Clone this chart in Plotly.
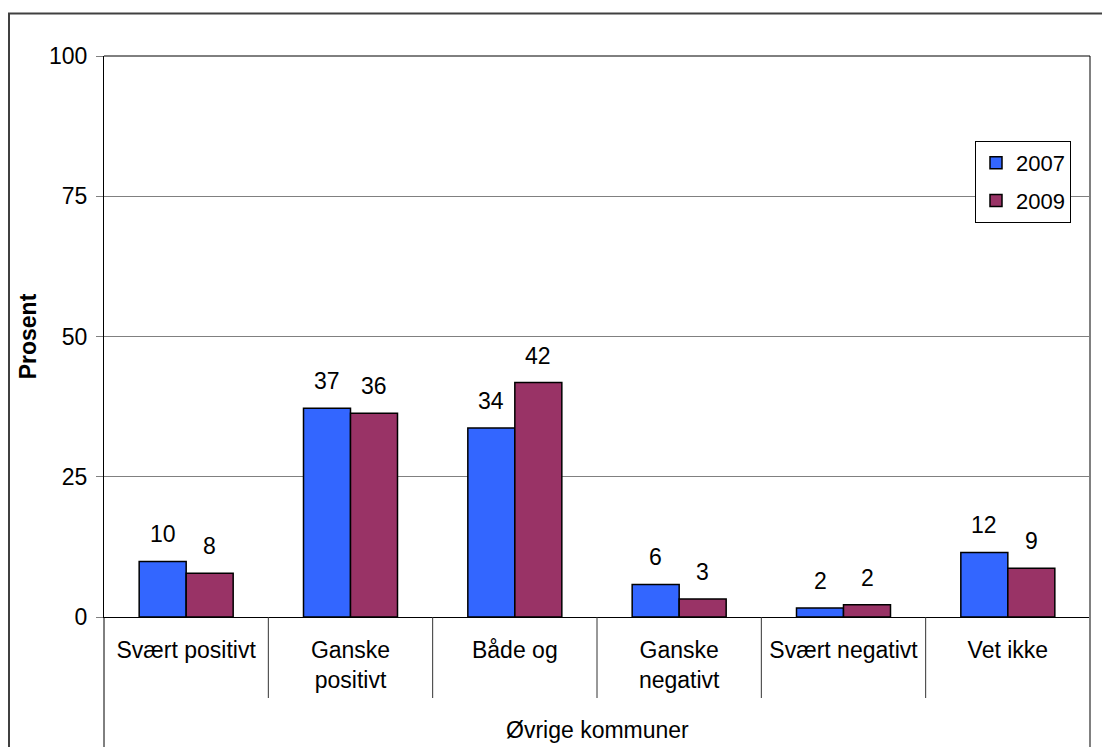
import plotly.graph_objects as go

categories = ["Svært positivt", "Ganske positivt", "Både og", "Ganske negativt", "Svært negativt", "Vet ikke"]
tick_labels = ["Svært positivt", "Ganske<br>positivt", "Både og", "Ganske<br>negativt", "Svært negativt", "Vet ikke"]
series_names = ["2007", "2009"]
values_2007 = [9.9, 37.2, 33.7, 5.8, 1.6, 11.5]
values_2009 = [7.8, 36.3, 41.8, 3.2, 2.2, 8.7]
labels_2007 = [10, 37, 34, 6, 2, 12]
labels_2009 = [8, 36, 42, 3, 2, 9]
group_label = "Øvrige kommuner"
y_title = "Prosent"
y_ticks = [0, 25, 50, 75, 100]

FONT = "Liberation Sans, Arial, sans-serif"
FS = 23
colors = ["#3366FF", "#993366"]

# page body has an 8px margin; figure coordinates = screen coordinates - 8
OFF = 8
L, T, PW, PH = 104 - OFF, 56 - OFF, 986, 561
W, H = 1110 - OFF, 747 - OFF
B0 = T + PH  # bottom of plot in figure px


def py(screen_y):
    return (B0 - (screen_y - OFF)) / PH


def px(screen_x):
    return ((screen_x - OFF) - L) / PW


fig = go.Figure()
for name, vals, col in zip(series_names, [values_2007, values_2009], colors):
    fig.add_trace(go.Bar(
        x=categories, y=vals, name=name, legendgroup=name,
        marker=dict(color=col, line=dict(color="black", width=1.5)),
        hoverinfo="skip",
    ))

annotations = []
for vals, labels, shift in zip([values_2007, values_2009], [labels_2007, labels_2009], [-23.5, 23.5]):
    for cat, v, lab in zip(categories, vals, labels):
        annotations.append(dict(
            x=cat, y=v, xref="x", yref="y", text=str(lab), showarrow=False,
            xshift=shift, yshift=12, yanchor="bottom",
            font=dict(family=FONT, size=FS, color="black"),
        ))

annotations.append(dict(
    x=0.5, y=py(730), xref="paper", yref="paper", text=group_label,
    showarrow=False, yanchor="middle", font=dict(family=FONT, size=FS, color="black"),
))

shapes = []
bottom = py(760)
# outer chart border
shapes.append(dict(type="rect", xref="paper", yref="paper",
                   x0=px(9), x1=px(1120), y0=py(13.5), y1=bottom,
                   line=dict(color="#404040", width=2), fillcolor="rgba(0,0,0,0)"))
# left axis extension
shapes.append(dict(type="line", xref="paper", yref="paper", x0=0, x1=0, y0=0, y1=bottom,
                   line=dict(color="black", width=1)))
# right plot border
shapes.append(dict(type="line", xref="paper", yref="paper", x0=1, x1=1, y0=1, y1=bottom,
                   line=dict(color="#808080", width=2)))
# top plot border
shapes.append(dict(type="line", xref="paper", yref="paper", x0=0, x1=1, y0=1, y1=1,
                   line=dict(color="black", width=1)))
# category dividers
for k in range(1, len(categories)):
    shapes.append(dict(type="line", xref="x", yref="paper", x0=k - 0.5, x1=k - 0.5,
                       y0=0, y1=py(698), line=dict(color="#333333", width=1)))

fig.update_layout(
    width=W, height=H,
    margin=dict(l=L, r=W - L - PW, t=T, b=H - T - PH, pad=0),
    paper_bgcolor="white", plot_bgcolor="white",
    font=dict(family=FONT, size=FS, color="black"),
    barmode="group", bargap=0.428, bargroupgap=0,
    showlegend=True,
    legend=dict(x=px(975), y=py(141), xanchor="left", yanchor="top",
                bordercolor="black", borderwidth=1, bgcolor="white",
                font=dict(family=FONT, size=FS - 1), tracegroupgap=6, traceorder="grouped"),
    annotations=annotations, shapes=shapes,
    xaxis=dict(type="category", tickvals=categories, ticktext=tick_labels,
               range=[-0.5, len(categories) - 0.5], showline=True, linecolor="black", linewidth=1,
               ticks="", showgrid=False, zeroline=False, tickfont=dict(family=FONT, size=FS),
               ticklabelstandoff=12),
    yaxis=dict(range=[0, 100], tickvals=y_ticks, showgrid=True, gridcolor="#808080", gridwidth=1,
               showline=True, linecolor="black", linewidth=1, ticks="outside", ticklen=7,
               tickcolor="#808080", zeroline=False, tickfont=dict(family=FONT, size=FS),
               ticklabelstandoff=4,
               title=dict(text="<b>" + y_title + "</b>", font=dict(family=FONT, size=FS), standoff=5)),
)

fig.write_html("out.html")
